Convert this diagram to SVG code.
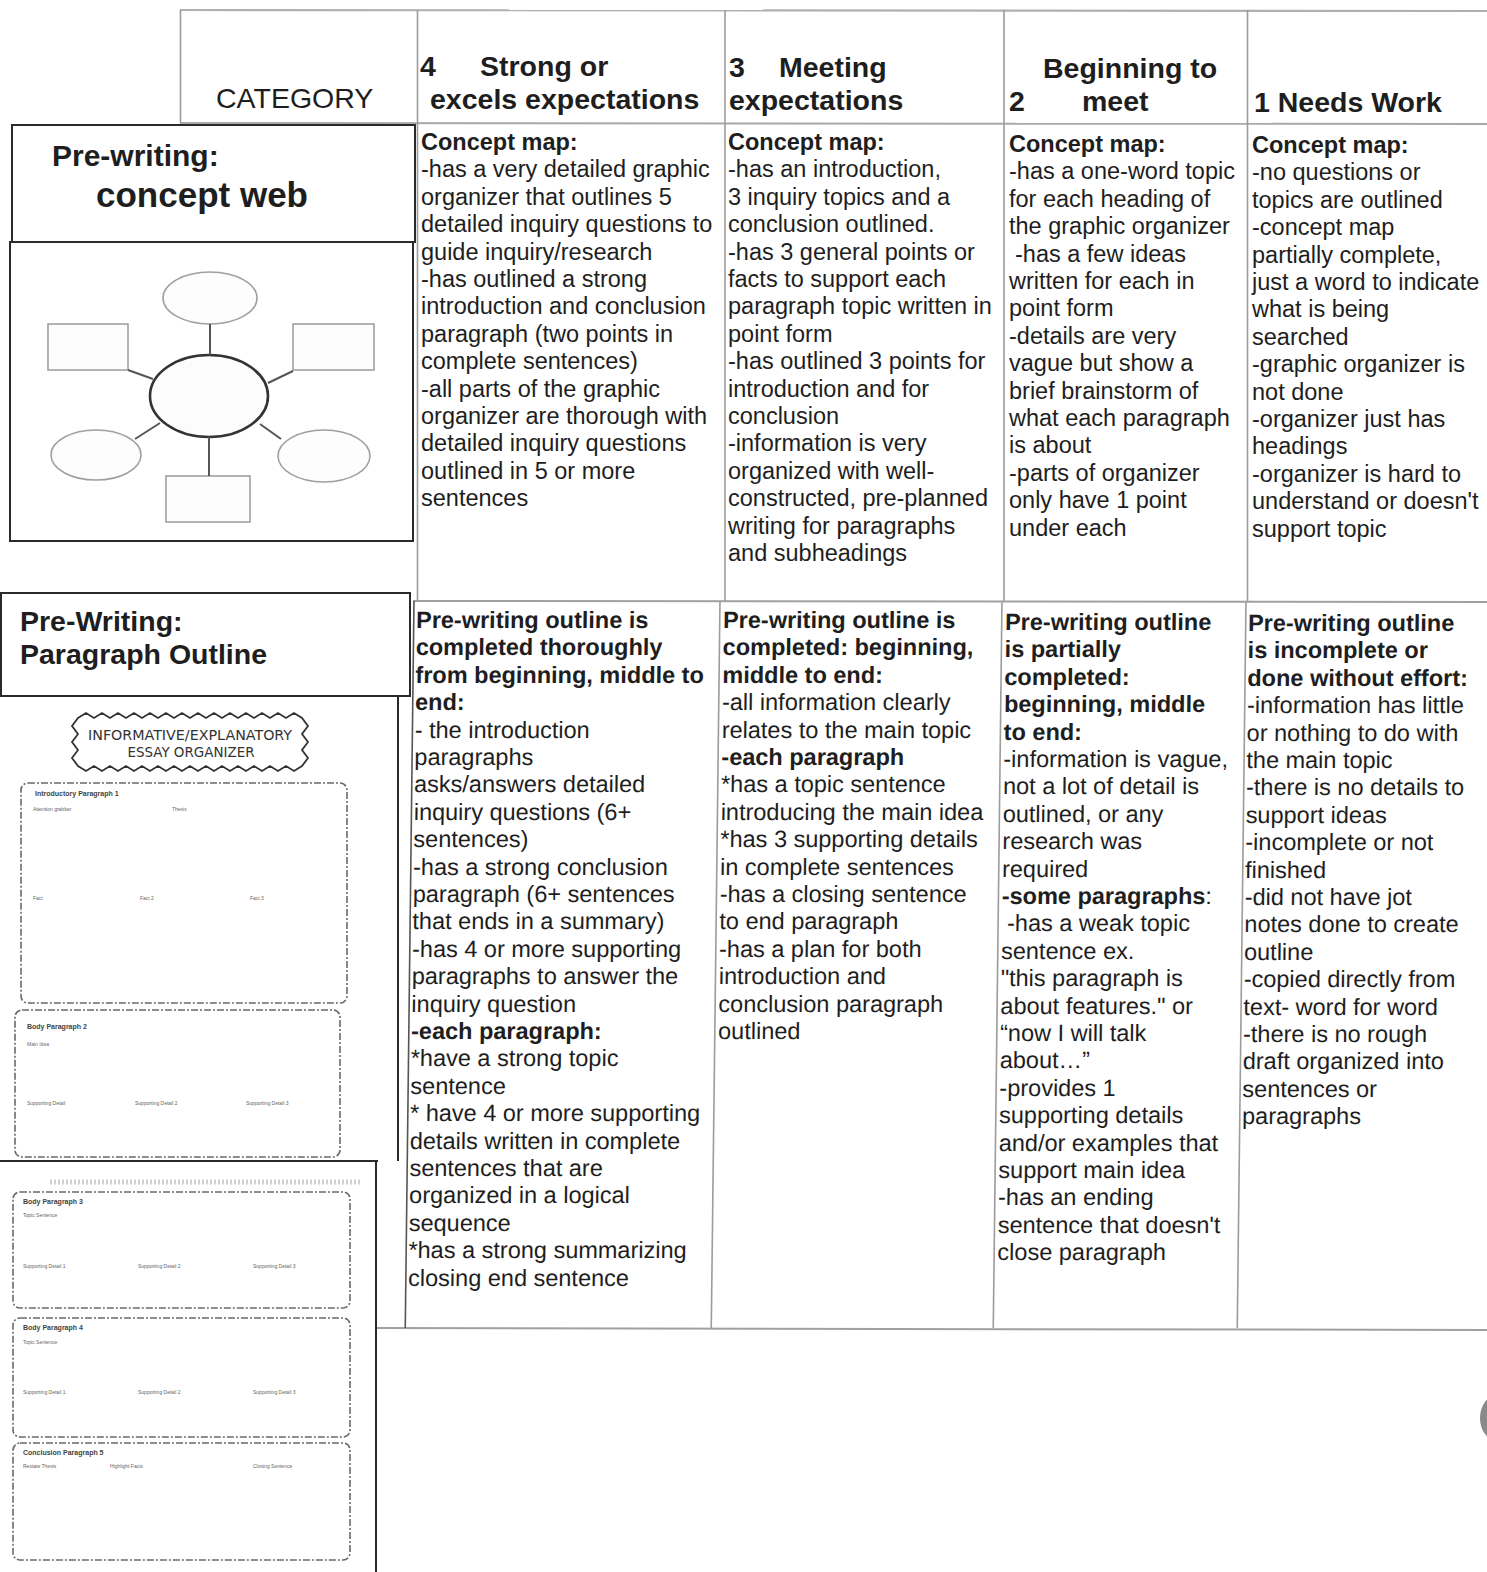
<svg xmlns="http://www.w3.org/2000/svg" width="1487" height="1572" viewBox="0 0 1487 1572">
<style>
.t{font-family:"Liberation Sans",Arial,sans-serif;font-size:23.5px;fill:#1e1e1e}
.b{font-weight:bold}
.h{font-size:28.5px}
.grid{stroke:#9c9c9c;stroke-width:1.6;fill:none}
.box{stroke:#2a2a2a;stroke-width:2;fill:none}
.lt{stroke:#a0a0a0;stroke-width:1.6;fill:#fdfdfd}
.con{stroke:#555;stroke-width:2;fill:none}
.dash{stroke:#6a6a6a;stroke-width:1.6;fill:none;stroke-dasharray:7 2 2 2}
.tiny{font-family:"Liberation Sans",Arial,sans-serif;font-size:7px;font-weight:bold;fill:#444}
.tiny2{font-family:"Liberation Sans",Arial,sans-serif;font-size:5px;fill:#666}
.hand{font-family:"DejaVu Sans Condensed","DejaVu Sans",sans-serif;font-size:14px;fill:#333}
</style>
<rect width="1487" height="1572" fill="#ffffff"/>

<g id="table-grid">
  <line class="grid" x1="180" y1="10" x2="1487" y2="11" style="stroke:#b0b0b0;stroke-width:2.2"/>
  <line class="grid" x1="180" y1="123" x2="1487" y2="124" style="stroke:#a8a8a8;stroke-width:2"/>
  <line class="grid" x1="180.5" y1="10" x2="180.5" y2="123"/>
  <line class="grid" x1="417.5" y1="10" x2="417.5" y2="601"/>
  <line class="grid" x1="725" y1="10" x2="725" y2="601"/>
  <line class="grid" x1="1004" y1="10" x2="1004" y2="601"/>
  <line class="grid" x1="1247.5" y1="10" x2="1247.5" y2="601"/>
  <line class="grid" x1="413" y1="601" x2="1487" y2="602" style="stroke:#a0a0a0;stroke-width:2"/>
  <line class="grid" x1="376" y1="1328" x2="1487" y2="1330" style="stroke:#a0a0a0;stroke-width:2"/>
  <g transform="matrix(1 0 -0.012 1 7.2 0)">
    <line class="grid" x1="414" y1="601" x2="414" y2="1328" style="stroke:#555"/>
    <line class="grid" x1="720" y1="601" x2="720" y2="1328"/>
    <line class="grid" x1="1002" y1="601" x2="1002" y2="1328"/>
    <line class="grid" x1="1246" y1="601" x2="1246" y2="1328"/>
  </g>
</g>

<g id="header">
  <text class="t h" x="216" y="108">CATEGORY</text>
  <text class="t h b" x="420" y="76">4</text>
  <text class="t h b" x="480" y="76">Strong or</text>
  <text class="t h b" x="430" y="109">excels expectations</text>
  <text class="t h b" x="729" y="77">3</text>
  <text class="t h b" x="779" y="77">Meeting</text>
  <text class="t h b" x="729" y="110">expectations</text>
  <text class="t h b" x="1043" y="78">Beginning to</text>
  <text class="t h b" x="1009" y="111">2</text>
  <text class="t h b" x="1082" y="111">meet</text>
  <text class="t h b" x="1254" y="112">1 Needs Work</text>
</g>

<g id="label-concept-web">
  <rect class="box" x="12" y="125" width="403" height="117"/>
  <text class="t b" x="52" y="166" style="font-size:30px">Pre-writing:</text>
  <text class="t b" x="96" y="207" style="font-size:35px">concept web</text>
</g>

<g id="concept-web-image">
  <rect class="box" x="10" y="242" width="403" height="299"/>
  <ellipse class="lt" cx="210" cy="298" rx="47" ry="26"/>
  <rect class="lt" x="48" y="324" width="80" height="46"/>
  <rect class="lt" x="293" y="324" width="81" height="46"/>
  <ellipse class="lt" cx="96" cy="455" rx="45" ry="25"/>
  <ellipse class="lt" cx="324" cy="456" rx="46" ry="26"/>
  <rect class="lt" x="166" y="476" width="84" height="46"/>
  <ellipse cx="209" cy="396" rx="59" ry="41" fill="#fcfcfc" stroke="#333" stroke-width="2.6"/>
</g>

<g id="connectors">
  <line class="con" x1="210" y1="324" x2="210" y2="355"/>
  <line class="con" x1="128" y1="370" x2="153" y2="379"/>
  <line class="con" x1="293" y1="371" x2="268" y2="383"/>
  <line class="con" x1="135" y1="439" x2="160" y2="423"/>
  <line class="con" x1="260" y1="424" x2="281" y2="439"/>
  <line class="con" x1="209" y1="437" x2="209" y2="476"/>
</g>

<g id="label-paragraph-outline">
  <rect class="box" x="1" y="593" width="409" height="103"/>
  <text class="t h b" x="20" y="631">Pre-Writing:</text>
  <text class="t h b" x="20" y="664">Paragraph Outline</text>
</g>

<g id="organizer-image-1">
  <line class="box" x1="398" y1="696" x2="398" y2="1161"/>
  <path d="M78,718 l8,-5 8,5 8,-5 8,5 8,-5 8,5 8,-5 8,5 8,-5 8,5 8,-5 8,5 8,-5 8,5 8,-5 8,5 8,-5 8,5 8,-5 8,5 8,-5 8,5 8,-5 8,5 8,-5 8,5 8,-5 8,5 l6,8 -6,8 6,8 -6,8 6,8 -6,8 l-8,5 -8,-5 -8,5 -8,-5 -8,5 -8,-5 -8,5 -8,-5 -8,5 -8,-5 -8,5 -8,-5 -8,5 -8,-5 -8,5 -8,-5 -8,5 -8,-5 -8,5 -8,-5 -8,5 -8,-5 -8,5 -8,-5 -8,5 -8,-5 -8,5 -8,-5 l-6,-8 6,-8 -6,-8 6,-8 -6,-8 z" fill="#fff" stroke="#333" stroke-width="1.8"/>
  <text class="hand" x="190" y="740" text-anchor="middle" textLength="204" lengthAdjust="spacingAndGlyphs">INFORMATIVE/EXPLANATORY</text>
  <text class="hand" x="191" y="757" text-anchor="middle" textLength="127" lengthAdjust="spacingAndGlyphs">ESSAY ORGANIZER</text>
  <rect class="dash" x="21" y="783" width="326" height="220" rx="7"/>
  <text class="tiny" x="35" y="796">Introductory Paragraph 1</text>
  <text class="tiny2" x="33" y="811">Attention grabber</text>
  <text class="tiny2" x="172" y="811">Thesis</text>
  <text class="tiny2" x="33" y="900">Fact</text>
  <text class="tiny2" x="140" y="900">Fact 2</text>
  <text class="tiny2" x="250" y="900">Fact 3</text>
  <rect class="dash" x="15" y="1010" width="325" height="147" rx="7"/>
  <text class="tiny" x="27" y="1029">Body Paragraph 2</text>
  <text class="tiny2" x="27" y="1046">Main Idea</text>
  <text class="tiny2" x="27" y="1105">Supporting Detail</text>
  <text class="tiny2" x="135" y="1105">Supporting Detail 2</text>
  <text class="tiny2" x="246" y="1105">Supporting Detail 3</text>
</g>

<g id="organizer-image-2">
  <line class="box" x1="0" y1="1161" x2="378" y2="1161"/>
  <line class="box" x1="376" y1="1161" x2="376" y2="1572"/>
  <line x1="50" y1="1182" x2="360" y2="1182" stroke="#d0d0d0" stroke-width="5" stroke-dasharray="2 2"/>
  <rect class="dash" x="13" y="1192" width="337" height="116" rx="7"/>
  <text class="tiny" x="23" y="1204">Body Paragraph 3</text>
  <text class="tiny2" x="23" y="1217">Topic Sentence</text>
  <text class="tiny2" x="23" y="1268">Supporting Detail 1</text>
  <text class="tiny2" x="138" y="1268">Supporting Detail 2</text>
  <text class="tiny2" x="253" y="1268">Supporting Detail 3</text>
  <rect class="dash" x="13" y="1318" width="337" height="119" rx="7"/>
  <text class="tiny" x="23" y="1330">Body Paragraph 4</text>
  <text class="tiny2" x="23" y="1344">Topic Sentence</text>
  <text class="tiny2" x="23" y="1394">Supporting Detail 1</text>
  <text class="tiny2" x="138" y="1394">Supporting Detail 2</text>
  <text class="tiny2" x="253" y="1394">Supporting Detail 3</text>
  <rect class="dash" x="13" y="1443" width="337" height="117" rx="7"/>
  <text class="tiny" x="23" y="1455">Conclusion Paragraph 5</text>
  <text class="tiny2" x="23" y="1468">Restate Thesis</text>
  <text class="tiny2" x="110" y="1468">Highlight Facts</text>
  <text class="tiny2" x="253" y="1468">Closing Sentence</text>
</g>

<g id="row1-col4">
<text class="t" y="150"><tspan x="421" class="b">Concept map:</tspan><tspan x="421" dy="27.4">-has a very detailed graphic</tspan><tspan x="421" dy="27.4">organizer that outlines 5</tspan><tspan x="421" dy="27.4">detailed inquiry questions to</tspan><tspan x="421" dy="27.4">guide inquiry/research</tspan><tspan x="421" dy="27.4">-has outlined a strong</tspan><tspan x="421" dy="27.4">introduction and conclusion</tspan><tspan x="421" dy="27.4">paragraph (two points in</tspan><tspan x="421" dy="27.4">complete sentences)</tspan><tspan x="421" dy="27.4">-all parts of the graphic</tspan><tspan x="421" dy="27.4">organizer are thorough with</tspan><tspan x="421" dy="27.4">detailed inquiry questions</tspan><tspan x="421" dy="27.4">outlined in 5 or more</tspan><tspan x="421" dy="27.4">sentences</tspan></text>
</g>

<g id="row1-col3">
<text class="t" y="150"><tspan x="728" class="b">Concept map:</tspan><tspan x="728" dy="27.4">-has an introduction,</tspan><tspan x="728" dy="27.4">3 inquiry topics and a</tspan><tspan x="728" dy="27.4">conclusion outlined.</tspan><tspan x="728" dy="27.4">-has 3 general points or</tspan><tspan x="728" dy="27.4">facts to support each</tspan><tspan x="728" dy="27.4">paragraph topic written in</tspan><tspan x="728" dy="27.4">point form</tspan><tspan x="728" dy="27.4">-has outlined 3 points for</tspan><tspan x="728" dy="27.4">introduction and for</tspan><tspan x="728" dy="27.4">conclusion</tspan><tspan x="728" dy="27.4">-information is very</tspan><tspan x="728" dy="27.4">organized with well-</tspan><tspan x="728" dy="27.4">constructed, pre-planned</tspan><tspan x="728" dy="27.4">writing for paragraphs</tspan><tspan x="728" dy="27.4">and subheadings</tspan></text>
</g>

<g id="row1-col2">
<text class="t" y="152"><tspan x="1009" class="b">Concept map:</tspan><tspan x="1009" dy="27.4">-has a one-word topic</tspan><tspan x="1009" dy="27.4">for each heading of</tspan><tspan x="1009" dy="27.4">the graphic organizer</tspan><tspan x="1015" dy="27.4">-has a few ideas</tspan><tspan x="1009" dy="27.4">written for each in</tspan><tspan x="1009" dy="27.4">point form</tspan><tspan x="1009" dy="27.4">-details are very</tspan><tspan x="1009" dy="27.4">vague but show a</tspan><tspan x="1009" dy="27.4">brief brainstorm of</tspan><tspan x="1009" dy="27.4">what each paragraph</tspan><tspan x="1009" dy="27.4">is about</tspan><tspan x="1009" dy="27.4">-parts of organizer</tspan><tspan x="1009" dy="27.4">only have 1 point</tspan><tspan x="1009" dy="27.4">under each</tspan></text>
</g>

<g id="row1-col1">
<text class="t" y="153"><tspan x="1252" class="b">Concept map:</tspan><tspan x="1252" dy="27.4">-no questions or</tspan><tspan x="1252" dy="27.4">topics are outlined</tspan><tspan x="1252" dy="27.4">-concept map</tspan><tspan x="1252" dy="27.4">partially complete,</tspan><tspan x="1252" dy="27.4">just a word to indicate</tspan><tspan x="1252" dy="27.4">what is being</tspan><tspan x="1252" dy="27.4">searched</tspan><tspan x="1252" dy="27.4">-graphic organizer is</tspan><tspan x="1252" dy="27.4">not done</tspan><tspan x="1252" dy="27.4">-organizer just has</tspan><tspan x="1252" dy="27.4">headings</tspan><tspan x="1252" dy="27.4">-organizer is hard to</tspan><tspan x="1252" dy="27.4">understand or doesn't</tspan><tspan x="1252" dy="27.4">support topic</tspan></text>
</g>

<g transform="matrix(1 0 -0.012 1 7.2 0)">
<g id="row2-col4">
<text class="t" y="628"><tspan x="416.3" class="b">Pre-writing outline is</tspan><tspan x="416.3" dy="27.4" class="b">completed thoroughly</tspan><tspan x="416.3" dy="27.4" class="b">from beginning, middle to</tspan><tspan x="416.3" dy="27.4" class="b">end:</tspan><tspan x="416.3" dy="27.4">- the introduction</tspan><tspan x="416.3" dy="27.4">paragraphs</tspan><tspan x="416.3" dy="27.4">asks/answers detailed</tspan><tspan x="416.3" dy="27.4">inquiry questions (6+</tspan><tspan x="416.3" dy="27.4">sentences)</tspan><tspan x="416.3" dy="27.4">-has a strong conclusion</tspan><tspan x="416.3" dy="27.4">paragraph (6+ sentences</tspan><tspan x="416.3" dy="27.4">that ends in a summary)</tspan><tspan x="416.3" dy="27.4">-has 4 or more supporting</tspan><tspan x="416.3" dy="27.4">paragraphs to answer the</tspan><tspan x="416.3" dy="27.4">inquiry question</tspan><tspan x="416.3" dy="27.4" class="b">-each paragraph:</tspan><tspan x="416.3" dy="27.4">*have a strong topic</tspan><tspan x="416.3" dy="27.4">sentence</tspan><tspan x="416.3" dy="27.4">* have 4 or more supporting</tspan><tspan x="416.3" dy="27.4">details written in complete</tspan><tspan x="416.3" dy="27.4">sentences that are</tspan><tspan x="416.3" dy="27.4">organized in a logical</tspan><tspan x="416.3" dy="27.4">sequence</tspan><tspan x="416.3" dy="27.4">*has a strong summarizing</tspan><tspan x="416.3" dy="27.4">closing end sentence</tspan></text>
</g>
<g id="row2-col3">
<text class="t" y="628"><tspan x="723.3" class="b">Pre-writing outline is</tspan><tspan x="723.3" dy="27.4" class="b">completed: beginning,</tspan><tspan x="723.3" dy="27.4" class="b">middle to end:</tspan><tspan x="723.3" dy="27.4">-all information clearly</tspan><tspan x="723.3" dy="27.4">relates to the main topic</tspan><tspan x="723.3" dy="27.4" class="b">-each paragraph</tspan><tspan x="723.3" dy="27.4">*has a topic sentence</tspan><tspan x="723.3" dy="27.4">introducing the main idea</tspan><tspan x="723.3" dy="27.4">*has 3 supporting details</tspan><tspan x="723.3" dy="27.4">in complete sentences</tspan><tspan x="723.3" dy="27.4">-has a closing sentence</tspan><tspan x="723.3" dy="27.4">to end paragraph</tspan><tspan x="723.3" dy="27.4">-has a plan for both</tspan><tspan x="723.3" dy="27.4">introduction and</tspan><tspan x="723.3" dy="27.4">conclusion paragraph</tspan><tspan x="723.3" dy="27.4">outlined</tspan></text>
</g>
<g id="row2-col2">
<text class="t" y="630"><tspan x="1005.3" class="b">Pre-writing outline</tspan><tspan x="1005.3" dy="27.4" class="b">is partially</tspan><tspan x="1005.3" dy="27.4" class="b">completed:</tspan><tspan x="1005.3" dy="27.4" class="b">beginning, middle</tspan><tspan x="1005.3" dy="27.4" class="b">to end:</tspan><tspan x="1005.3" dy="27.4">-information is vague,</tspan><tspan x="1005.3" dy="27.4">not a lot of detail is</tspan><tspan x="1005.3" dy="27.4">outlined, or any</tspan><tspan x="1005.3" dy="27.4">research was</tspan><tspan x="1005.3" dy="27.4">required</tspan><tspan x="1005.3" dy="27.4" class="b">-some paragraphs</tspan><tspan>:</tspan><tspan x="1011" dy="27.4">-has a weak topic</tspan><tspan x="1005.3" dy="27.4">sentence ex.</tspan><tspan x="1005.3" dy="27.4">"this paragraph is</tspan><tspan x="1005.3" dy="27.4">about features." or</tspan><tspan x="1005.3" dy="27.4">“now I will talk</tspan><tspan x="1005.3" dy="27.4">about…”</tspan><tspan x="1005.3" dy="27.4">-provides 1</tspan><tspan x="1005.3" dy="27.4">supporting details</tspan><tspan x="1005.3" dy="27.4">and/or examples that</tspan><tspan x="1005.3" dy="27.4">support main idea</tspan><tspan x="1005.3" dy="27.4">-has an ending</tspan><tspan x="1005.3" dy="27.4">sentence that doesn't</tspan><tspan x="1005.3" dy="27.4">close paragraph</tspan></text>
</g>
<g id="row2-col1">
<text class="t" y="631"><tspan x="1248.3" class="b">Pre-writing outline</tspan><tspan x="1248.3" dy="27.4" class="b">is incomplete or</tspan><tspan x="1248.3" dy="27.4" class="b">done without effort:</tspan><tspan x="1248.3" dy="27.4">-information has little</tspan><tspan x="1248.3" dy="27.4">or nothing to do with</tspan><tspan x="1248.3" dy="27.4">the main topic</tspan><tspan x="1248.3" dy="27.4">-there is no details to</tspan><tspan x="1248.3" dy="27.4">support ideas</tspan><tspan x="1248.3" dy="27.4">-incomplete or not</tspan><tspan x="1248.3" dy="27.4">finished</tspan><tspan x="1248.3" dy="27.4">-did not have jot</tspan><tspan x="1248.3" dy="27.4">notes done to create</tspan><tspan x="1248.3" dy="27.4">outline</tspan><tspan x="1248.3" dy="27.4">-copied directly from</tspan><tspan x="1248.3" dy="27.4">text- word for word</tspan><tspan x="1248.3" dy="27.4">-there is no rough</tspan><tspan x="1248.3" dy="27.4">draft organized into</tspan><tspan x="1248.3" dy="27.4">sentences or</tspan><tspan x="1248.3" dy="27.4">paragraphs</tspan></text>
</g>
</g>

<ellipse cx="1494" cy="1418" rx="14" ry="21" fill="#8a8a8a"/>
</svg>
